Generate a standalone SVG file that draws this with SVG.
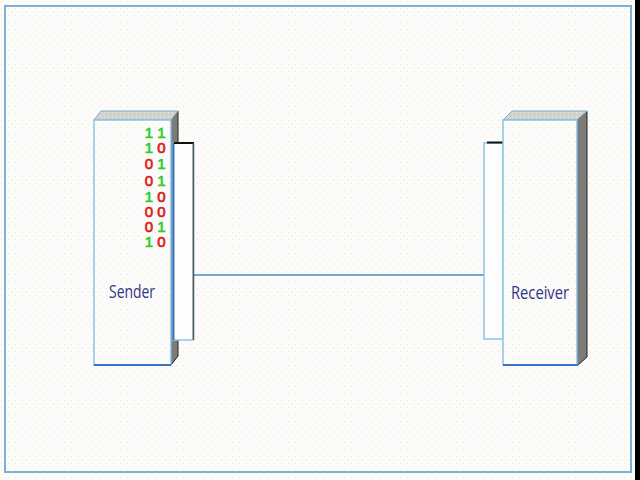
<svg xmlns="http://www.w3.org/2000/svg" width="640" height="480" viewBox="0 0 640 480">
<defs>
<pattern id="dots" width="7" height="7" patternUnits="userSpaceOnUse">
<rect width="7" height="7" fill="#fbfbfe"/>
<rect x="1" y="1" width="1" height="1" fill="#f2f07a"/>
<rect x="4.5" y="4.5" width="1" height="1" fill="#f5f3a0"/>
</pattern>
<pattern id="dotsGray" width="4" height="4" patternUnits="userSpaceOnUse">
<rect width="4" height="4" fill="#d2d2cc"/>
<rect x="0" y="0" width="1" height="1" fill="#eeeed8"/>
</pattern>
</defs>
<style>
.front{fill:url(#dots);stroke:#8cc4e4;stroke-width:1.5}
.top{fill:url(#dotsGray);stroke:#7aa9c8;stroke-width:1}
.side{fill:#7c7c78;stroke:#222;stroke-width:1}
.panel{fill:#fdfdfd;stroke:#8cc4e4;stroke-width:1.5}
.edge{stroke:#3a74c0;stroke-width:2;fill:none}
.dark{stroke:#111;stroke-width:2;fill:none}
.lbl{font-family:"Open Sans","DejaVu Sans",sans-serif;font-size:18px;fill:#333388}
.bit{font-family:"Liberation Sans",Arial,sans-serif;font-size:15px;text-anchor:middle;stroke-width:0.7}
.one{fill:#2ecc2e;stroke:#2ecc2e}
.zero{fill:#dd2020;stroke:#dd2020}
.conn{stroke:#74a8cc;stroke-width:2;fill:none}
</style>
<rect x="0" y="0" width="640" height="480" fill="url(#dots)"/>
<rect x="5" y="6" width="626" height="466" fill="none" stroke="#7fb0d4" stroke-width="2"/>
<rect x="635" y="0" width="5" height="480" fill="#000"/>

<g id="connectors">
<line class="conn" x1="193" y1="275" x2="485" y2="275"/>
</g>

<g id="sender">
<polygon class="side" points="171,120 178,111 178,356 171,365"/>
<polygon class="top" points="94,120 101,111 178,111 171,120"/>
<rect class="front" x="94" y="120" width="77" height="245"/>
<line class="edge" x1="94" y1="365" x2="171" y2="365"/>
<rect class="panel" x="173" y="143" width="20" height="197"/>
<line class="edge" x1="173.5" y1="143" x2="173.5" y2="340"/>
<line class="dark" x1="174" y1="143" x2="194" y2="143"/>
<line x1="193.5" y1="143" x2="193.5" y2="340" stroke="#555" stroke-width="1.5"/>
<text class="lbl" x="109" y="298" textLength="46" lengthAdjust="spacingAndGlyphs">Sender</text>
<g class="bit">
<text class="one" x="149" y="138">1</text><text class="one" x="161.5" y="138">1</text>
<text class="one" x="149" y="153">1</text><text class="zero" x="161.5" y="153">0</text>
<text class="zero" x="149" y="169">0</text><text class="one" x="161.5" y="169">1</text>
<text class="zero" x="149" y="186">0</text><text class="one" x="161.5" y="186">1</text>
<text class="one" x="149" y="202">1</text><text class="zero" x="161.5" y="202">0</text>
<text class="zero" x="149" y="217">0</text><text class="zero" x="161.5" y="217">0</text>
<text class="zero" x="149" y="232">0</text><text class="one" x="161.5" y="232">1</text>
<text class="one" x="149" y="247">1</text><text class="zero" x="161.5" y="247">0</text>
</g>
</g>

<g id="receiver">
<rect class="panel" x="484" y="143" width="19" height="196"/>
<line class="dark" x1="487" y1="142.5" x2="503" y2="142.5"/>
<polygon class="side" points="577,120 587,111 587,357 577,366"/>
<polygon class="top" points="503,120 512,111 587,111 577,120"/>
<rect class="front" x="503" y="120" width="74" height="245"/>
<line class="edge" x1="503" y1="365" x2="577" y2="365"/>
<text class="lbl" x="511" y="299" textLength="58" lengthAdjust="spacingAndGlyphs">Receiver</text>
</g>
</svg>
